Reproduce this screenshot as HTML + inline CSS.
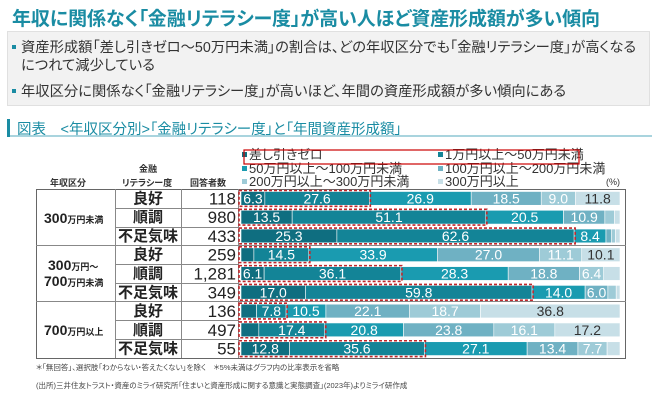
<!DOCTYPE html><html><head><meta charset="utf-8"><style>
body{margin:0;width:660px;height:404px;background:#fff;font-family:"Liberation Sans","Noto Sans CJK JP",sans-serif;overflow:hidden;position:relative;font-feature-settings:"palt"}
.t{position:absolute;left:12px;top:4px;font-size:19px;color:#1a8ca3;font-weight:bold;letter-spacing:-0.1px}
.box{position:absolute;left:7px;top:31px;width:641px;height:73px;background:#f2f2f2;border:1px solid #e0e0e0}
.b{position:absolute;font-size:14.3px;color:#333;white-space:nowrap}
.sq{position:absolute;width:4px;height:4px;background:#1a8ca3}
.sec{position:absolute;left:7px;top:119px;width:645px;height:16px;border-bottom:2px solid #a9d4de}
.sec div{position:absolute;left:0;top:0;width:3px;height:18px;background:#1a8ca3}
.sec span{position:absolute;left:10px;top:-1px;font-size:14.5px;color:#1a8ca3;white-space:nowrap}
svg text{font-feature-settings:"palt"}
</style></head><body>
<div class="t">年収に関係なく「金融リテラシー度」が高い人ほど資産形成額が多い傾向</div>
<div class="box"></div>
<div class="sq" style="left:12px;top:45px"></div>
<div class="b" style="left:21px;top:36px">資産形成額「差し引きゼロ～50万円未満」の割合は、どの年収区分でも「金融リテラシー度」が高くなる</div>
<div class="b" style="left:21px;top:54px">につれて減少している</div>
<div class="sq" style="left:12px;top:89px"></div>
<div class="b" style="left:21px;top:80px">年収区分に関係なく「金融リテラシー度」が高いほど、年間の資産形成額が多い傾向にある</div>
<div class="sec"><div></div><span>図表　&lt;年収区分別&gt;「金融リテラシー度」と「年間資産形成額」</span></div>
<svg style="position:absolute;left:0;top:0" width="660" height="404" font-family="Liberation Sans,Noto Sans CJK JP,sans-serif">
<g font-size="13" fill="#333">
<rect x="242" y="152" width="5" height="5" fill="#0f6e80"/><text x="249" y="159">差し引きゼロ</text>
<rect x="438" y="152" width="5" height="5" fill="#138497"/><text x="445" y="159">1万円以上～50万円未満</text>
<rect x="242" y="166" width="5" height="5" fill="#1a9bb0"/><text x="249" y="173">50万円以上～100万円未満</text>
<rect x="438" y="166" width="5" height="5" fill="#6fb1c3"/><text x="445" y="173">100万円以上～200万円未満</text>
<rect x="242" y="179" width="5" height="5" fill="#9ecbd7"/><text x="249" y="186">200万円以上～300万円未満</text>
<rect x="438" y="179" width="5" height="5" fill="#c7dfe7"/><text x="445" y="186">300万円以上</text>
<text x="606" y="185" font-size="9">(%)</text>
</g>
<rect x="244" y="150" width="335" height="14" fill="none" stroke="#c00" stroke-width="1.2"/>
<g font-size="9" fill="#333" text-anchor="middle" font-weight="bold">
<text x="148" y="172">金融</text><text x="68" y="186">年収区分</text><text x="147" y="186">リテラシー度</text><text x="208" y="186">回答者数</text>
</g>
<rect x="36.5" y="189.5" width="589" height="169" fill="none" stroke="#666"/>
<g stroke="#888"><line x1="115.5" y1="189" x2="115.5" y2="358"/><line x1="181.5" y1="189" x2="181.5" y2="358"/><line x1="238.5" y1="189" x2="238.5" y2="358"/>
<line x1="36" y1="245.5" x2="626" y2="245.5"/><line x1="36" y1="301.5" x2="626" y2="301.5"/>
<line x1="115" y1="208.5" x2="238" y2="208.5"/><line x1="115" y1="227.5" x2="238" y2="227.5"/><line x1="115" y1="264.5" x2="238" y2="264.5"/><line x1="115" y1="283.5" x2="238" y2="283.5"/><line x1="115" y1="320.5" x2="238" y2="320.5"/><line x1="115" y1="339.5" x2="238" y2="339.5"/></g>
<g font-weight="bold" fill="#222">
<text x="44" y="223" font-size="14">300<tspan font-size="9">万円未満</tspan></text>
<text x="48" y="270" font-size="14">300<tspan font-size="9">万円～</tspan></text>
<text x="44" y="286" font-size="14">700<tspan font-size="9">万円未満</tspan></text>
<text x="44" y="335" font-size="14">700<tspan font-size="9">万円以上</tspan></text>
</g>
<g id="rows" font-size="15" font-weight="bold" fill="#222"></g>
<g id="bars"></g>
<g font-size="7.5" fill="#444"><text x="36" y="370">＊「無回答」、選択肢「わからない・答えたくない」を除く　＊5%未満はグラフ内の比率表示を省略</text>
<text x="36" y="388">(出所)三井住友トラスト・資産のミライ研究所「住まいと資産形成に関する意識と実態調査」(2023年)よりミライ研作成</text></g>
</svg>
<script>
var lit=["良好","順調","不足気味"],n=[118,980,433,259,"1,281",349,136,497,55];
var D=[[6.3,27.6,26.9,18.5,9.0,11.8],[13.5,51.1,20.5,10.9,2.5,1.5],[25.3,62.6,8.4,1.5,1.0,1.2],[3.4,14.5,33.9,27.0,11.1,10.1],[6.1,36.1,28.3,18.8,6.4,4.3],[17.0,59.8,14.0,6.0,2.2,1.0],[4.1,7.8,10.5,22.1,18.7,36.8],[4.7,17.4,20.8,23.8,16.1,17.2],[12.8,35.6,27.1,13.4,7.7,3.4]];
var C=["#0f6e80","#138497","#1a9bb0","#6fb1c3","#9ecbd7","#c7dfe7"];
var dark={"11.8":1,"10.1":1,"36.8":1,"17.2":1};
var s="",r="",x0=241,W=379,rh=18.78;
for(var i=0;i<9;i++){var y=189+i*rh,cy=y+rh/2;
r+='<text x="148" y="'+(cy+5)+'" text-anchor="middle">'+lit[i%3]+'</text><text x="236" y="'+(cy+6)+'" text-anchor="end" font-size="17" font-weight="normal">'+n[i]+'</text>';
var x=x0,tot=D[i].reduce(function(a,b){return a+b});
for(var j=0;j<6;j++){var w=D[i][j]/tot*W;
s+='<rect x="'+x+'" y="'+(y+2.5)+'" width="'+w+'" height="'+(rh-5)+'" fill="'+C[j]+'" stroke="#fff" stroke-width="0.6"/>';
if(D[i][j]>=5){var v=D[i][j].toFixed(1);s+='<text x="'+(x+w/2)+'" y="'+(cy+5)+'" text-anchor="middle" font-size="14" fill="'+(dark[v]?"#333":"#fff")+'">'+v+'</text>';}
x+=w;}
var e=(D[i][0]+D[i][1])/tot*W;
s+='<rect x="'+(x0-2)+'" y="'+(y+1.5)+'" width="'+(e+3)+'" height="'+(rh-3)+'" fill="none" stroke="#c0262a" stroke-width="1.6" stroke-dasharray="3,2"/>';}
document.getElementById("bars").innerHTML=s;document.getElementById("rows").innerHTML=r;
</script>
</body></html>
